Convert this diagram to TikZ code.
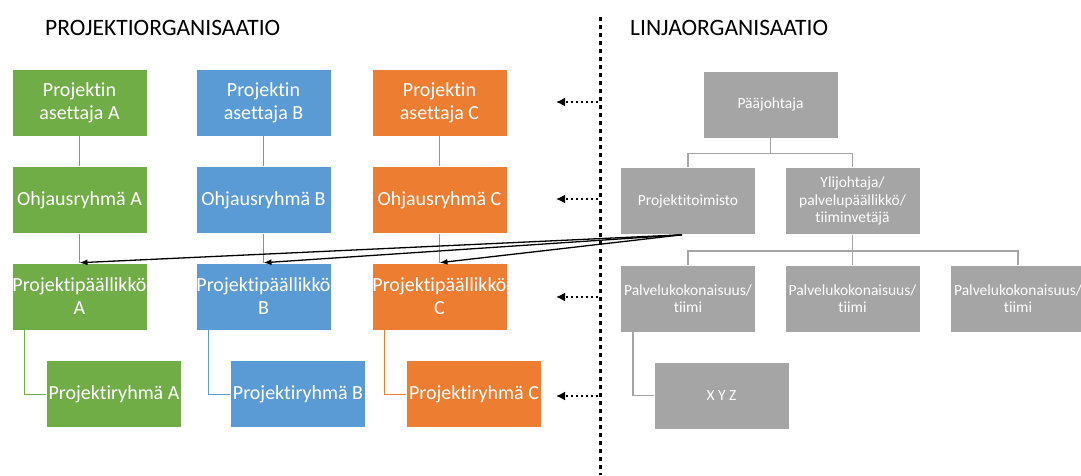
\documentclass[tikz,border=0pt]{standalone}
\usepackage{fontspec}
\setmainfont{Carlito}[Ligatures=NoCommon]
\usetikzlibrary{arrows.meta,calc}
\definecolor{cgreen}{HTML}{70AD47}
\definecolor{cblue}{HTML}{5B9BD5}
\definecolor{corange}{HTML}{ED7D31}
\definecolor{cgray}{HTML}{A5A5A5}
\begin{document}
\begin{tikzpicture}[x=1pt,y=-1pt,
  box/.style={rectangle, draw=white, line width=0.6pt, text=white,
    minimum width=135pt, minimum height=67pt, inner sep=0pt, align=center,
    font=\fontsize{20}{23}\selectfont},
  gbox/.style={box, fill=cgray, font=\fontsize{15.5}{17.5}\selectfont},
  title/.style={anchor=west, inner sep=0pt, font=\fontsize{23.5}{27}\selectfont},
  link/.style={line width=1pt},
  glink/.style={draw=cgray, line width=1.5pt},
  pointer/.style={-{Latex[length=8pt,width=6pt]}, line width=1.3pt, black},
  dotarrow/.style={-{Latex[length=9pt,width=9pt]}, line width=2.8pt,
    dash pattern=on 2.5pt off 2.5pt, black},
  divider/.style={line width=3.5pt, dash pattern=on 3.8pt off 4.2pt, black}]
\useasboundingbox (0,0) rectangle (1081,475);

% headings
\node[title] (hproj) at (45,28) {PROJEKTIORGANISAATIO};
\node[title] (hlinja) at (630,28) {LINJAORGANISAATIO};

% project columns
\node[box, fill=cgreen]  (asA) at (79.5,102.5) {Projektin\\asettaja A};
\node[box, fill=cblue]   (asB) at (263.5,102.5) {Projektin\\asettaja B};
\node[box, fill=corange] (asC) at (439.5,102.5) {Projektin\\asettaja C};

\node[box, fill=cgreen]  (ohA) at (79.5,200) {Ohjausryhmä A};
\node[box, fill=cblue]   (ohB) at (263.5,200) {Ohjausryhmä B};
\node[box, fill=corange] (ohC) at (439.5,200) {Ohjausryhmä C};

\node[box, fill=cgreen]  (ppA) at (79.5,296.5) {Projektipäällikkö\\A};
\node[box, fill=cblue]   (ppB) at (263.5,296.5) {Projektipäällikkö\\B};
\node[box, fill=corange] (ppC) at (439.5,296.5) {Projektipäällikkö\\C};

\node[box, fill=cgreen]  (prA) at (114,394) {Projektiryhmä A};
\node[box, fill=cblue]   (prB) at (298,394) {Projektiryhmä B};
\node[box, fill=corange] (prC) at (474,394) {Projektiryhmä C};

% column links
\foreach \c/\col in {A/cgreen,B/cblue,C/corange}{
  \draw[link, draw=\col] (as\c.south) -- (oh\c.north);
  \draw[link, draw=\col] (oh\c.south) -- (pp\c.north);
  \draw[link, draw=\col] ([xshift=12.5pt]pp\c.south west) |- (pr\c.west);
}

% line organisation
\node[gbox] (pj)  at (770.5,104.5) {Pääjohtaja};
\node[gbox] (pt)  at (688,201) {Projektitoimisto};
\node[gbox] (yl)  at (852.5,201) {Ylijohtaja/\\palvelupäällikkö/\\tiiminvetäjä};
\node[gbox] (pk1) at (688,298.5) {Palvelukokonaisuus/\\tiimi};
\node[gbox] (pk2) at (852.5,298.5) {Palvelukokonaisuus/\\tiimi};
\node[gbox] (pk3) at (1018,298.5) {Palvelukokonaisuus/\\tiimi};
\node[gbox] (xyz) at (721.5,395.5) {X Y Z};

\coordinate (bus1) at ($(pj.south)+(0,15)$);
\draw[glink] (pj.south) -- (bus1);
\draw[glink] (pt.north) |- (bus1) -| (yl.north);
\coordinate (bus2) at ($(yl.south)+(0,16)$);
\draw[glink] (yl.south) -- (bus2);
\draw[glink] (pk1.north) |- (bus2) -| (pk3.north);
\draw[glink] (bus2) -- (pk2.north);
\draw[glink] ([xshift=-55pt]pk1.south) |- (xyz.west);

% divider between the organisations
\coordinate (divtop) at (600.5,17);
\coordinate (divbot) at (600.5,475);
\draw[divider] (divtop) -- (divbot);

% links from the line organisation to the project organisation
\foreach \r/\n in {102/as,199/oh,297/pp,396/pr}{
  \coordinate (\n from) at (598,\r);
  \coordinate (\n to) at (556,\r);
  \draw[dotarrow] (\n from) -- (\n to);
}

\coordinate (ptout) at ([xshift=-6pt]pt.south);
\draw[pointer] (ptout) -- (ppA.north);
\draw[pointer] (ptout) -- (ppB.north);
\draw[pointer] (ptout) -- (ppC.north);
\end{tikzpicture}
\end{document}
